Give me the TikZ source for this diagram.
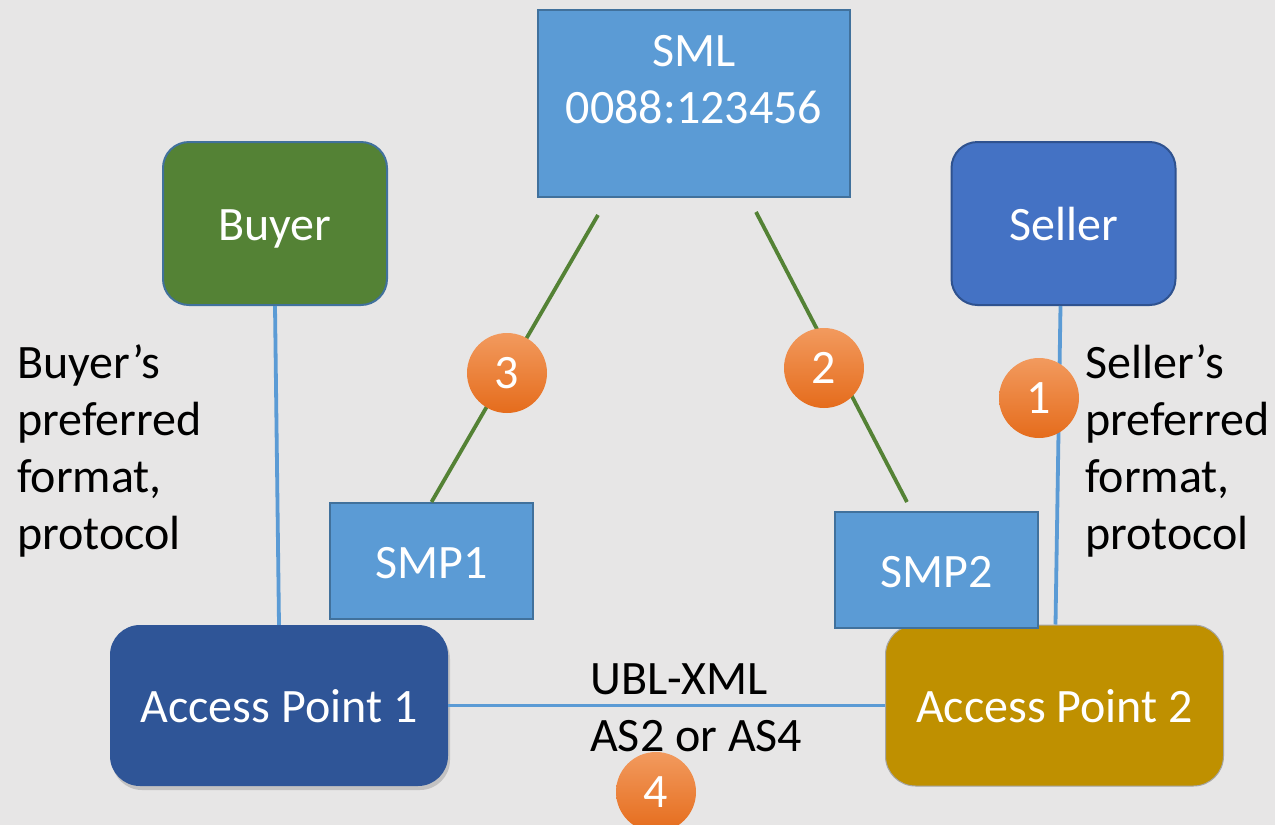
\documentclass[tikz,border=0pt]{standalone}
\usepackage{fontspec}
\setmainfont{Carlito}
\usetikzlibrary{shadows}

\definecolor{bg}{HTML}{E7E6E6}
\definecolor{smfill}{HTML}{5B9BD5}
\definecolor{smedge}{HTML}{41719C}
\definecolor{buyerfill}{HTML}{548235}
\definecolor{sellerfill}{HTML}{4472C4}
\definecolor{selleredge}{HTML}{2F528F}
\definecolor{apone}{HTML}{2F5597}
\definecolor{aptwo}{HTML}{BF9000}
\definecolor{aptwoedge}{HTML}{A6A6A6}
\definecolor{linkblue}{HTML}{5B9BD5}
\definecolor{linkgreen}{HTML}{548235}
\definecolor{stepTop}{HTML}{F29A5E}
\definecolor{stepBottom}{HTML}{E56C1C}

\tikzset{
  bigfont/.style={font=\fontsize{48}{57}\selectfont},
  boxtext/.style={text=white, bigfont, inner sep=0pt, text height=34pt, text depth=0pt},
  smbox/.style={rectangle, fill=smfill, draw=smedge, line width=2pt, boxtext},
  party/.style={rectangle, rounded corners=26pt, line width=2pt, boxtext,
    minimum width=224, minimum height=163},
  apbox/.style={rectangle, rounded corners=30pt, boxtext,
    minimum width=338, minimum height=161},
  bluelink/.style={draw=linkblue, line width=3.8pt},
  greenlink/.style={draw=linkgreen, line width=3.8pt},
  stepdot/.style={circle, minimum size=80, inner sep=0pt, top color=stepTop,
    bottom color=stepBottom, text=white, font=\fontsize{48}{57}\selectfont},
  note/.style={align=left, anchor=north west, inner sep=0pt, text=black, bigfont}
}

\begin{document}
\begin{tikzpicture}[x=1pt,y=-1pt]
  \useasboundingbox[fill=bg] (0,0) rectangle (1275,825);

  % registry and metadata publishers
  \node[smbox, minimum width=312, minimum height=187] (sml) at (694,103.5) {};
  \node[align=center, anchor=north, inner sep=0pt, text=white, bigfont]
    (smltext) at (694,35) {SML\\0088:123456};
  \node[smbox, minimum width=203, minimum height=116] (smp1) at (431.5,561) {SMP1};

  % trading parties
  \node[party, fill=buyerfill, draw=smedge] (buyer) at (275,223.5) {Buyer};
  \node[party, fill=sellerfill, draw=selleredge] (seller) at (1063.5,223.5) {Seller};

  % lookup links
  \coordinate (g1top) at (598,215);
  \coordinate (g2top) at (756,212);
  \coordinate (g2bot) at (907,502);
  \draw[greenlink] (g1top) -- (smp1.north);
  \draw[greenlink] (g2top) -- (g2bot);

  % access points
  \node[apbox, fill=apone, drop shadow={shadow xshift=2pt, shadow yshift=-4pt,
    opacity=0.35}] (ap1) at (279,705.5) {Access Point 1};
  \node[apbox, fill=aptwo, draw=aptwoedge, line width=1pt] (ap2) at (1054.5,705.5)
    {Access Point 2};
  \node[smbox, minimum width=203, minimum height=116] (smp2) at (936.5,570) {SMP2};

  % delivery links
  \draw[bluelink] (buyer.south) -- (ap1.north);
  \draw[bluelink] ([xshift=-3pt]seller.south) -- ([xshift=1pt]ap2.north);
  \draw[bluelink] (ap1.east) -- (ap2.west);

  % labels
  \node[note] (buyernote) at (17,344) {Buyer’s\\preferred\\format,\\protocol};
  \node[note] (sellernote) at (1085,344) {Seller’s\\preferred\\format,\\protocol};
  \node[note] (transport) at (590,663) {UBL-XML\\AS2 or AS4};

  % numbered steps
  \node[stepdot] (s1) at (1039,398) {1};
  \node[stepdot] (s2) at (824,368) {2};
  \node[stepdot] (s3) at (507,373) {3};
  \node[stepdot] (s4) at (656,792) {4};
\end{tikzpicture}
\end{document}
